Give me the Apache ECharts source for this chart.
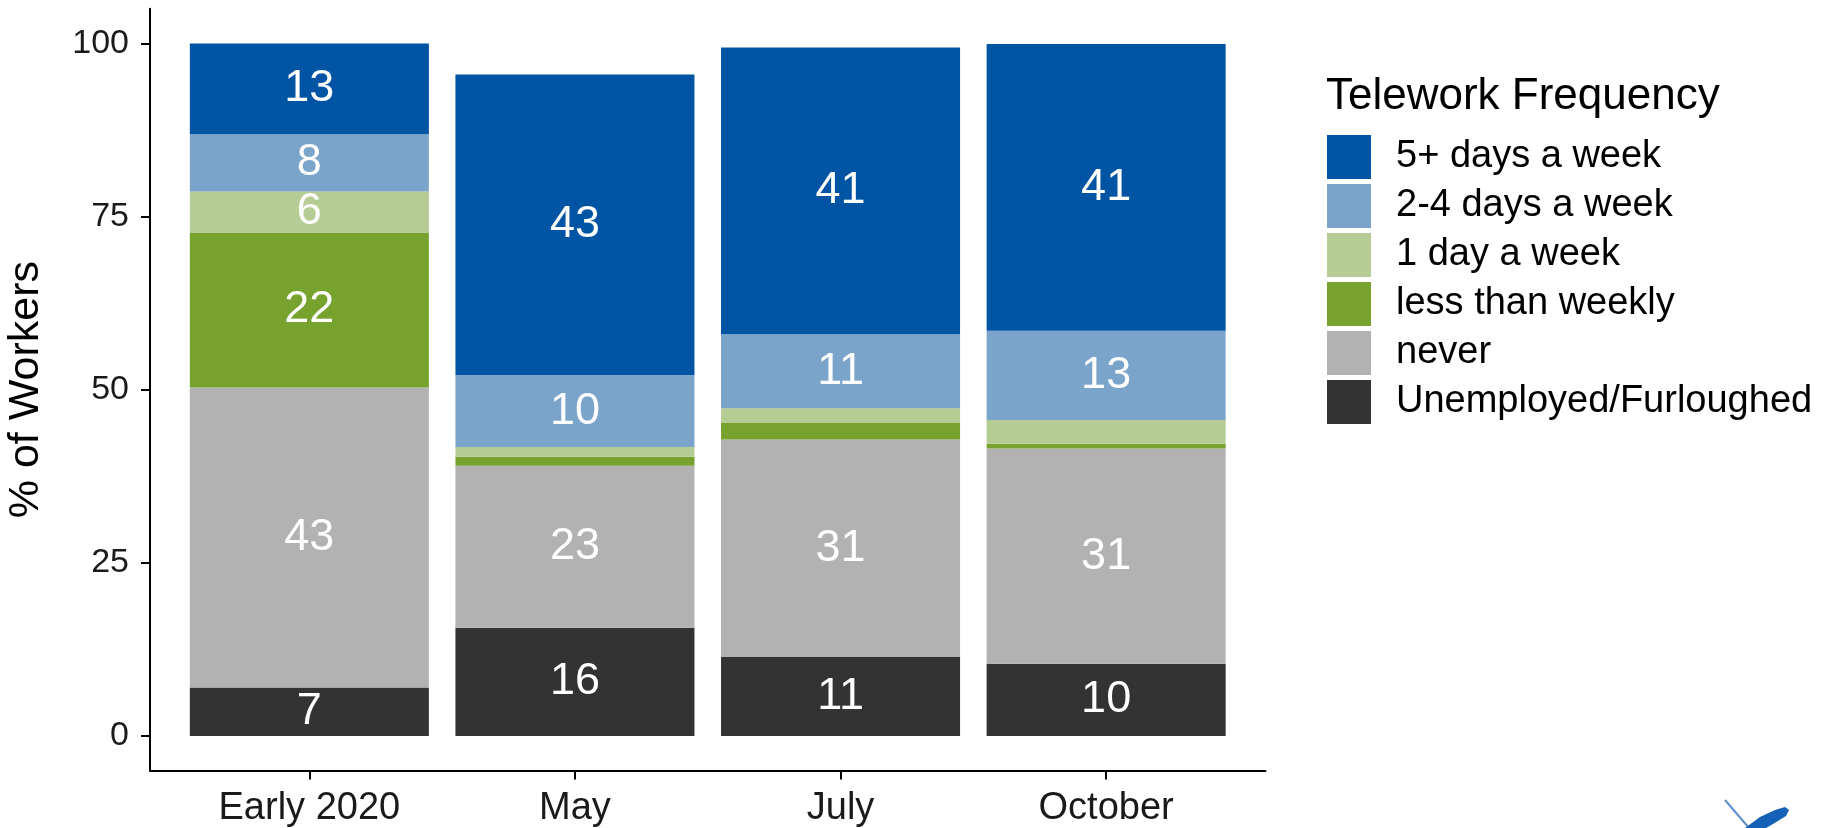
<!DOCTYPE html>
<html>
<head>
<meta charset="utf-8">
<title>Telework Frequency</title>
<script src="https://cdn.jsdelivr.net/npm/echarts@6/dist/echarts.min.js"></script>
<style>
  html, body { margin: 0; padding: 0; background: #ffffff; }
  #chart { width: 1839px; height: 828px; }
</style>
</head>
<body>
<div id="chart"></div>
<script>
// Survey waves shown along the x axis
const categories = ['Early 2020', 'May', 'July', 'October'];

// Share of workers (%) in each telework group, per wave
const fivePlusDays   = [13.1, 43.4, 41.4, 41.4];
const twoToFourDays  = [8.3, 10.4, 10.7, 12.9];
const oneDay         = [5.9, 1.4, 2.1, 3.4];
const lessThanWeekly = [22.4, 1.3, 2.4, 0.7];
const never          = [43.3, 23.4, 31.4, 31.1];
const unemployed     = [7.0, 15.6, 11.4, 10.4];

// Y axis tick values
const yTicks = [0, 25, 50, 75, 100];

// Stack order, bottom to top
const groups = [
  { name: 'Unemployed/Furloughed', values: unemployed,     color: '#333333' },
  { name: 'never',                 values: never,          color: '#b2b2b2' },
  { name: 'less than weekly',      values: lessThanWeekly, color: '#77a22e' },
  { name: '1 day a week',          values: oneDay,         color: '#b6cc95' },
  { name: '2-4 days a week',       values: twoToFourDays,  color: '#7ba4cb' },
  { name: '5+ days a week',        values: fivePlusDays,   color: '#0054a4' }
];

const FONT = '"Liberation Sans", Arial, Helvetica, sans-serif';
// Waves sit at x = 1..4 on a continuous axis padded by 0.6 on each side
const catPositions = categories.map((_, i) => i + 1);

// Each row is [share, position]; the share comes first so it is the stacked dimension
const series = groups.map(g => ({
  name: g.name,
  type: 'bar',
  stack: 'share',
  barWidth: '90%',
  encode: { x: 1, y: 0 },
  itemStyle: { color: g.color },
  emphasis: { disabled: true },
  label: {
    show: true,
    position: 'inside',
    color: '#ffffff',
    fontFamily: FONT,
    fontSize: 45,
    formatter: p => (p.value[0] >= 5 ? String(Math.round(p.value[0])) : '')
  },
  data: g.values.map((v, i) => [v, catPositions[i]])
}));

const chart = echarts.init(document.getElementById('chart'), null, { renderer: 'canvas' });

chart.setOption({
  animation: false,
  backgroundColor: '#ffffff',
  textStyle: { fontFamily: FONT },
  title: {
    text: 'Telework Frequency',
    left: 1326,
    top: 75,
    padding: 0,
    textStyle: { fontFamily: FONT, fontSize: 44, fontWeight: 'normal', color: '#000000' }
  },
  legend: {
    orient: 'vertical',
    left: 1327,
    top: 135,
    padding: 0,
    itemWidth: 44,
    itemHeight: 44,
    itemGap: 5,
    icon: 'rect',
    selectedMode: false,
    data: groups.slice().reverse().map(g => g.name),
    textStyle: { fontFamily: FONT, fontSize: 38, color: '#000000', padding: [0, 0, 0, 20] }
  },
  grid: {
    left: 150,
    right: 573.5,
    top: 8.8,
    bottom: 57.5,
    containLabel: false,
    outerBoundsMode: 'none'
  },
  xAxis: {
    type: 'value',
    min: 0.4,
    max: 4.6,
    splitLine: { show: false },
    axisLine: { show: true, onZero: false, lineStyle: { color: '#000000', width: 2 } },
    axisTick: { show: true, length: 9, customValues: catPositions, lineStyle: { color: '#000000', width: 2 } },
    axisLabel: {
      customValues: catPositions,
      margin: 19,
      color: '#1a1a1a',
      fontFamily: FONT,
      fontSize: 38,
      formatter: v => categories[Math.round(v) - 1] || ''
    }
  },
  yAxis: {
    type: 'value',
    min: -5,
    max: 105,
    name: '% of Workers',
    nameLocation: 'middle',
    nameRotate: 90,
    nameGap: 102,
    nameTextStyle: { fontFamily: FONT, fontSize: 43, color: '#000000' },
    splitLine: { show: false },
    axisLine: { show: true, onZero: false, lineStyle: { color: '#000000', width: 2 } },
    axisTick: { show: true, length: 9, customValues: yTicks, lineStyle: { color: '#000000', width: 2 } },
    axisLabel: {
      customValues: yTicks,
      margin: 21,
      color: '#1a1a1a',
      fontFamily: FONT,
      fontSize: 34
    }
  },
  series: series,
  graphic: [
    {
      type: 'line',
      shape: { x1: 1725, y1: 800, x2: 1749, y2: 828 },
      style: { stroke: '#5b8fcf', lineWidth: 2 },
      silent: true
    },
    {
      type: 'polygon',
      shape: { points: [[1745, 828], [1760, 817], [1775, 810], [1785, 807], [1789, 810], [1786, 816], [1773, 824], [1766, 828]] },
      style: { fill: '#1561b8' },
      silent: true
    }
  ]
});
</script>
</body>
</html>
